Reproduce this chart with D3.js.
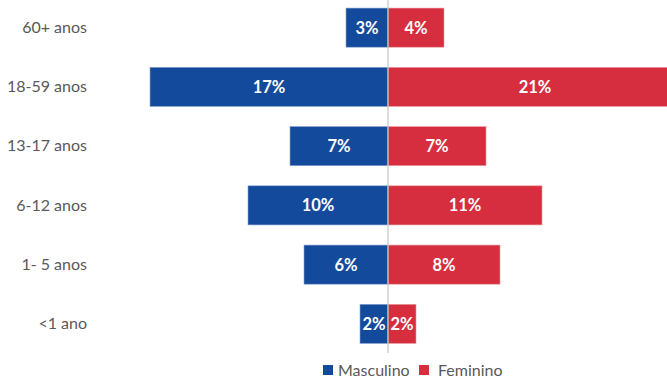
<!DOCTYPE html>
<html>
<head>
<meta charset="utf-8">
<script src="https://cdn.jsdelivr.net/npm/d3@7"></script>
<style>
  html, body { margin: 0; padding: 0; background: #fff; }
  svg { display: block; font-family: Lato, "Open Sans", sans-serif; }
</style>
</head>
<body>
<svg id="chart" width="667" height="381"></svg>
<script>
// Age groups, top to bottom
const categories = ["60+ anos", "18-59 anos", "13-17 anos", "6-12 anos", "1- 5 anos", "<1 ano"];
// Share of population (%) per age group
const masculino = [3, 17, 7, 10, 6, 2];
const feminino  = [4, 21, 7, 11, 8, 2];
const seriesNames = ["Masculino", "Feminino"];
const colors = ["#144A9B", "#D62E3E"];

const W = 667, H = 381;
const centerX = 388;
const svg = d3.select("#chart");

// horizontal scale: negative side for men, positive for women
const x = d3.scaleLinear().domain([-25, 25]).range([centerX - 350, centerX + 350]);
const y = d3.scaleBand().domain(categories).range([-2, 353.5])
  .paddingInner(0.34).paddingOuter(0.17);

const clip = svg.append("defs").append("clipPath").attr("id", "plot-clip");
clip.append("rect").attr("x", 0).attr("y", 0).attr("width", W).attr("height", H);

const plot = svg.append("g").attr("clip-path", "url(#plot-clip)");

const rows = categories.map((c, i) => ({ cat: c, m: masculino[i], f: feminino[i] }));

// male bars (left)
plot.selectAll("rect.m").data(rows).join("rect")
  .attr("class", "m")
  .attr("x", d => x(-d.m))
  .attr("width", d => x(0) - x(-d.m))
  .attr("y", d => y(d.cat))
  .attr("height", y.bandwidth())
  .attr("fill", colors[0])
  .attr("stroke", "#8aa3cc").attr("stroke-width", 0.6);

// female bars (right)
plot.selectAll("rect.f").data(rows).join("rect")
  .attr("class", "f")
  .attr("x", x(0))
  .attr("width", d => x(d.f) - x(0))
  .attr("y", d => y(d.cat))
  .attr("height", y.bandwidth())
  .attr("fill", colors[1])
  .attr("stroke", "#eb9aa2").attr("stroke-width", 0.6);

// center axis line
svg.append("line")
  .attr("x1", x(0)).attr("x2", x(0))
  .attr("y1", 0).attr("y2", 353)
  .attr("stroke", "#c6c6c6").attr("stroke-width", 1.2);

// value labels
const labelStyle = sel => sel
  .attr("text-anchor", "middle")
  .attr("dy", "0.36em")
  .attr("fill", "#fff")
  .attr("font-weight", 700)
  .attr("font-size", 16.5);

svg.selectAll("text.lm").data(rows).join("text")
  .attr("class", "lm")
  .attr("x", d => (x(-d.m) + x(0)) / 2)
  .attr("y", d => y(d.cat) + y.bandwidth() / 2)
  .call(labelStyle)
  .text(d => d.m + "%");

svg.selectAll("text.lf").data(rows).join("text")
  .attr("class", "lf")
  .attr("x", d => (x(0) + x(d.f)) / 2)
  .attr("y", d => y(d.cat) + y.bandwidth() / 2)
  .call(labelStyle)
  .text(d => d.f + "%");

// category axis on the left
const axis = svg.append("g").attr("transform", "translate(87,0)")
  .call(d3.axisLeft(y).tickSize(0).tickPadding(0));
axis.select(".domain").remove();
axis.selectAll("text")
  .attr("font-family", "Lato, 'Open Sans', sans-serif")
  .attr("font-size", 16)
  .attr("fill", "#595959");

// legend
const legend = svg.append("g").attr("transform", "translate(323,365)");
const legendX = [0, 96];
seriesNames.forEach((name, i) => {
  const g = legend.append("g").attr("transform", `translate(${legendX[i]},0)`);
  g.append("rect").attr("width", 10).attr("height", 10).attr("fill", colors[i]);
  g.append("text")
    .attr("x", i === 0 ? 15 : 19).attr("y", 5).attr("dy", "0.36em")
    .attr("font-size", 16).attr("fill", "#595959")
    .text(name);
});
</script>
</body>
</html>
